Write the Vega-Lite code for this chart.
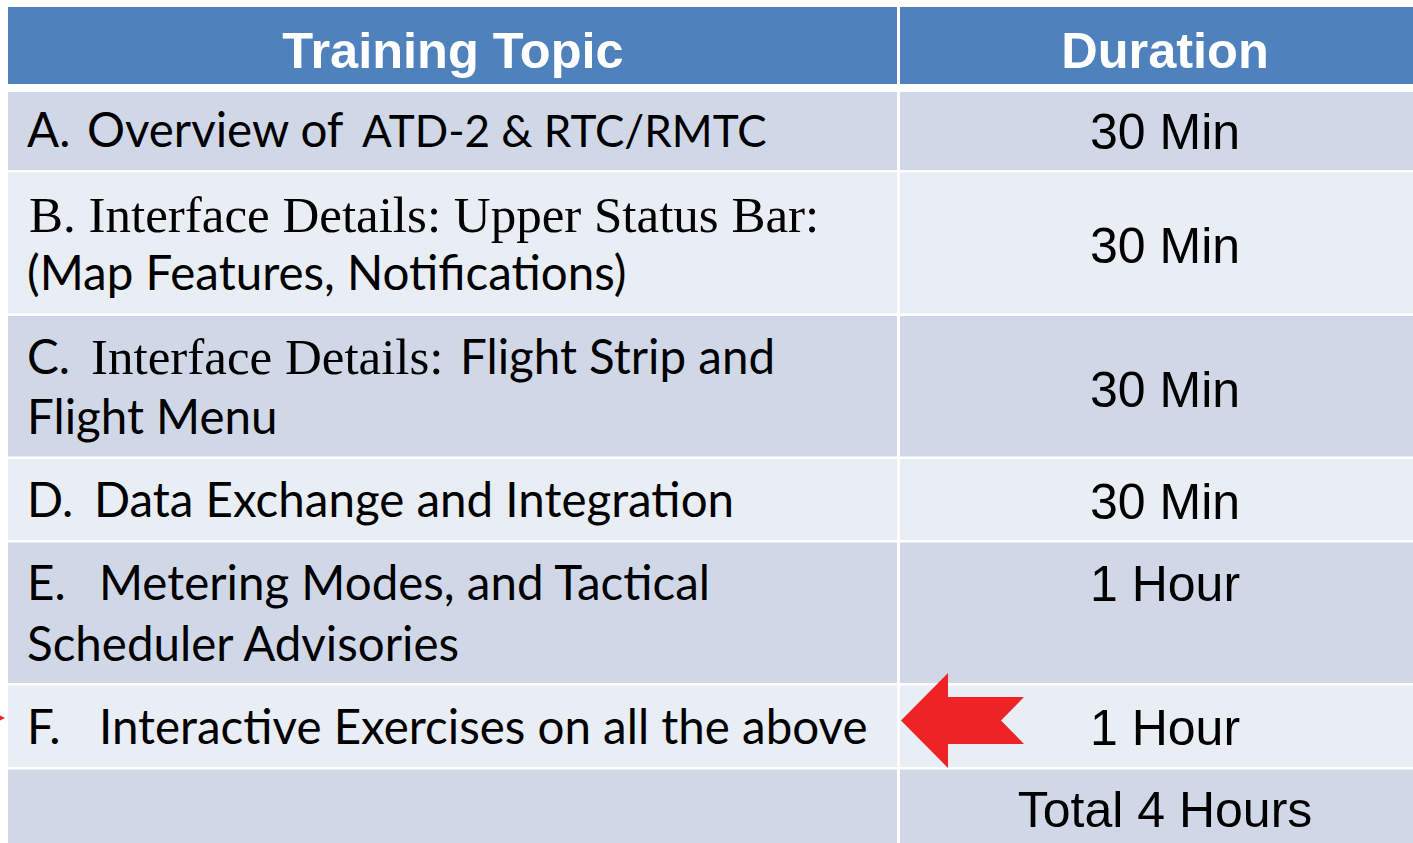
{
  "$schema": "https://vega.github.io/schema/vega-lite/v6.json",
  "width": 1413,
  "height": 843,
  "autosize": {"type": "none"},
  "padding": 0,
  "background": "#ffffff",
  "config": {"view": {"stroke": null}},
  "datasets": {
    "cells": [
      {"row": "header", "col": 1, "band": "header", "x0": 8, "x1": 897, "y0": 7, "y1": 84},
      {"row": "header", "col": 2, "band": "header", "x0": 900, "x1": 1413, "y0": 7, "y1": 84},
      {"row": "A", "col": 1, "band": "dark", "x0": 8, "x1": 897, "y0": 92, "y1": 170},
      {"row": "A", "col": 2, "band": "dark", "x0": 900, "x1": 1413, "y0": 92, "y1": 170},
      {"row": "B", "col": 1, "band": "light", "x0": 8, "x1": 897, "y0": 172.5, "y1": 313.5},
      {"row": "B", "col": 2, "band": "light", "x0": 900, "x1": 1413, "y0": 172.5, "y1": 313.5},
      {"row": "C", "col": 1, "band": "dark", "x0": 8, "x1": 897, "y0": 316, "y1": 456.5},
      {"row": "C", "col": 2, "band": "dark", "x0": 900, "x1": 1413, "y0": 316, "y1": 456.5},
      {"row": "D", "col": 1, "band": "light", "x0": 8, "x1": 897, "y0": 459, "y1": 540},
      {"row": "D", "col": 2, "band": "light", "x0": 900, "x1": 1413, "y0": 459, "y1": 540},
      {"row": "E", "col": 1, "band": "dark", "x0": 8, "x1": 897, "y0": 542.5, "y1": 683},
      {"row": "E", "col": 2, "band": "dark", "x0": 900, "x1": 1413, "y0": 542.5, "y1": 683},
      {"row": "F", "col": 1, "band": "light", "x0": 8, "x1": 897, "y0": 685.5, "y1": 767},
      {"row": "F", "col": 2, "band": "light", "x0": 900, "x1": 1413, "y0": 685.5, "y1": 767},
      {"row": "Total", "col": 1, "band": "dark", "x0": 8, "x1": 897, "y0": 769.5, "y1": 843},
      {"row": "Total", "col": 2, "band": "dark", "x0": 900, "x1": 1413, "y0": 769.5, "y1": 843}
    ],
    "texts": [
      {"kind": "header", "text": "Training Topic", "x": 453, "y": 68},
      {"kind": "header", "text": "Duration", "x": 1165, "y": 68},
      {"kind": "sans", "text": "A.", "x": 27, "y": 147},
      {"kind": "sans", "text": "Overview of", "x": 87, "y": 147},
      {"kind": "caps", "text": "ATD-2 & RTC/RMTC", "x": 362, "y": 147},
      {"kind": "serif", "text": "B. Interface Details: Upper Status Bar:", "x": 29, "y": 232},
      {"kind": "sans", "text": "(Map Features, Notifications)", "x": 27, "y": 290},
      {"kind": "sans", "text": "C.", "x": 27, "y": 374},
      {"kind": "serif", "text": "Interface Details:", "x": 91, "y": 374},
      {"kind": "sans", "text": "Flight Strip and", "x": 460, "y": 374},
      {"kind": "sans", "text": "Flight Menu", "x": 27, "y": 434},
      {"kind": "sans", "text": "D.", "x": 27, "y": 517},
      {"kind": "sans", "text": "Data Exchange and Integration", "x": 94, "y": 517},
      {"kind": "sans", "text": "E.", "x": 27, "y": 600},
      {"kind": "sans", "text": "Metering Modes, and Tactical", "x": 99, "y": 600},
      {"kind": "sans", "text": "Scheduler Advisories", "x": 27, "y": 661},
      {"kind": "sans", "text": "F.", "x": 27, "y": 744},
      {"kind": "sans", "text": "Interactive Exercises on all the above", "x": 99, "y": 744},
      {"kind": "duration", "text": "30 Min", "x": 1165, "y": 149},
      {"kind": "duration", "text": "30 Min", "x": 1165, "y": 263},
      {"kind": "duration", "text": "30 Min", "x": 1165, "y": 407},
      {"kind": "duration", "text": "30 Min", "x": 1165, "y": 519},
      {"kind": "duration", "text": "1 Hour", "x": 1165, "y": 601},
      {"kind": "duration", "text": "1 Hour", "x": 1165, "y": 745},
      {"kind": "duration", "text": "Total 4 Hours", "x": 1165, "y": 827}
    ],
    "arrows": [
      {"name": "main", "x": 962.5, "y": 720.5},
      {"name": "edge", "x": -3, "y": 718}
    ]
  },
  "layer": [
    {
      "data": {"name": "cells"},
      "mark": {"type": "rect"},
      "encoding": {
        "x": {"field": "x0", "type": "quantitative", "scale": {"domain": [0, 1413], "nice": false, "zero": false}, "axis": null},
        "x2": {"field": "x1"},
        "y": {"field": "y0", "type": "quantitative", "scale": {"domain": [0, 843], "nice": false, "zero": false, "reverse": true}, "axis": null},
        "y2": {"field": "y1"},
        "color": {"field": "band", "type": "nominal", "scale": {"domain": ["header", "dark", "light"], "range": ["#4F81BD", "#D0D8E8", "#E9EDF4"]}, "legend": null}
      }
    },
    {
      "data": {"name": "texts"},
      "transform": [{"filter": "datum.kind === 'header'"}],
      "mark": {"type": "text", "font": "Liberation Sans", "fontWeight": "bold", "fontSize": 50.5, "align": "center", "baseline": "alphabetic", "fill": "#ffffff"},
      "encoding": {
        "x": {"field": "x", "type": "quantitative"},
        "y": {"field": "y", "type": "quantitative"},
        "text": {"field": "text", "type": "nominal"}
      }
    },
    {
      "data": {"name": "texts"},
      "transform": [{"filter": "datum.kind === 'sans'"}],
      "mark": {"type": "text", "font": "Lato", "fontSize": 47.5, "align": "left", "baseline": "alphabetic", "fill": "#000000"},
      "encoding": {
        "x": {"field": "x", "type": "quantitative"},
        "y": {"field": "y", "type": "quantitative"},
        "text": {"field": "text", "type": "nominal"}
      }
    },
    {
      "data": {"name": "texts"},
      "transform": [{"filter": "datum.kind === 'caps'"}],
      "mark": {"type": "text", "font": "Lato", "fontSize": 44, "align": "left", "baseline": "alphabetic", "fill": "#000000"},
      "encoding": {
        "x": {"field": "x", "type": "quantitative"},
        "y": {"field": "y", "type": "quantitative"},
        "text": {"field": "text", "type": "nominal"}
      }
    },
    {
      "data": {"name": "texts"},
      "transform": [{"filter": "datum.kind === 'serif'"}],
      "mark": {"type": "text", "font": "Liberation Serif", "fontSize": 51, "align": "left", "baseline": "alphabetic", "fill": "#000000"},
      "encoding": {
        "x": {"field": "x", "type": "quantitative"},
        "y": {"field": "y", "type": "quantitative"},
        "text": {"field": "text", "type": "nominal"}
      }
    },
    {
      "data": {"name": "texts"},
      "transform": [{"filter": "datum.kind === 'duration'"}],
      "mark": {"type": "text", "font": "Liberation Sans", "fontSize": 50, "align": "center", "baseline": "alphabetic", "fill": "#000000"},
      "encoding": {
        "x": {"field": "x", "type": "quantitative"},
        "y": {"field": "y", "type": "quantitative"},
        "text": {"field": "text", "type": "nominal"}
      }
    },
    {
      "data": {"name": "arrows"},
      "transform": [{"filter": "datum.name === 'main'"}],
      "mark": {"type": "point", "shape": "M-1,0L-0.236,-0.772L-0.236,-0.382L1,-0.382L0.626,0L1,0.382L-0.236,0.382L-0.236,0.772Z", "size": 15129, "filled": true, "fill": "#EE2325", "strokeWidth": 0, "opacity": 1},
      "encoding": {
        "x": {"field": "x", "type": "quantitative"},
        "y": {"field": "y", "type": "quantitative"}
      }
    },
    {
      "data": {"name": "arrows"},
      "transform": [{"filter": "datum.name === 'edge'"}],
      "mark": {"type": "point", "shape": "M-1,-1L1,0L-1,1Z", "size": 256, "filled": true, "fill": "#EE2325", "strokeWidth": 0, "opacity": 1},
      "encoding": {
        "x": {"field": "x", "type": "quantitative"},
        "y": {"field": "y", "type": "quantitative"}
      }
    }
  ]
}
